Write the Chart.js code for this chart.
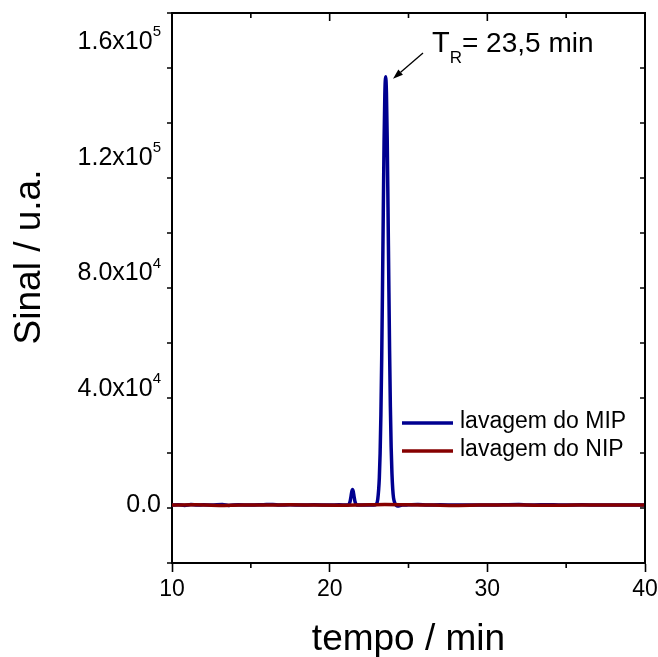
<!DOCTYPE html>
<html><head><meta charset="utf-8">
<script src="https://cdn.jsdelivr.net/npm/chart.js@4.4.1/dist/chart.umd.min.js"></script>
<style>html,body{margin:0;padding:0;background:#fff}canvas{display:block}</style>
</head><body><canvas id="c" width="658" height="657"></canvas>
<script>
// ---- data ----
const mipTime = [10,10.4,10.8,11.2,11.6,12.0,12.5,13.2,13.6,14.2,15.0,15.8,16.4,16.8,17.5,18.2,19.0,20.0,20.6,21.1,
  21.2,21.25,21.3,21.35,21.4,21.45,21.5,21.55,21.6,21.65,21.7,21.8,22.4,22.8,22.95,
  23.05,23.15,23.2,23.25,23.3,23.35,23.4,23.45,23.5,23.55,23.6,23.65,23.7,23.75,23.8,23.85,23.9,23.95,24.0,24.05,24.15,24.3,
  24.6,25.0,25.6,26.2,27.0,28.0,29.0,30.0,31.0,32.0,32.6,33.4,34.2,35.0,36.0,37.0,38.5,40.0];
const mipSignal = [0,150,-100,200,0,100,0,250,-100,100,0,150,250,0,100,0,100,0,100,0,
  110,460,1350,2900,4600,5400,4600,2900,1350,460,110,0,50,0,300,
  2000,9400,17900,31400,50500,74600,101000,125300,142000,148000,142500,126500,103000,77500,53500,34000,20000,11000,5500,2500,500,-300,
  0,100,250,0,100,0,50,0,100,200,0,150,100,0,100,0,50,0];
const nipTime = [10,11.5,13,14.5,16,17.5,19,20.5,22,23.5,25,26.5,28,29.5,31,32.5,34,35.5,37,38.5,40];
const nipSignal = [0,100,-100,50,0,100,0,-50,50,200,100,0,-100,0,50,0,-50,0,50,0,0];
const seriesLabels = ['lavagem do MIP','lavagem do NIP'];
const xTitle = 'tempo / min';
const yTitle = 'Sinal / u.a.';
const xTickValues = [10,20,30,40];
const xTickLabels = ['10','20','30','40'];
const yTickValues = [0,40000,80000,120000,160000];
const yTickMantissa = ['0.0','4.0x10','8.0x10','1.2x10','1.6x10'];
const yTickExponent = ['','4','4','5','5'];
const annotationMain = 'T';
const annotationSub = 'R';
const annotationRest = '= 23,5 min';
const annotationTextAt = [26.49, 156500];   // data units (time, signal)
const annotationArrowFrom = [25.92, 156200];
const annotationArrowTo = [24.02, 147300];

// ---- styling ----
const FONT = '"Liberation Sans", Arial, Helvetica, sans-serif';
const mipColor = '#000090';
const nipColor = '#860000';

const isMajorX = v => xTickValues.includes(v);
const isMajorY = v => yTickValues.includes(v);

const decor = {
  id: 'decor',
  afterDraw(chart) {
    const ctx = chart.ctx, a = chart.chartArea;
    const xs = chart.scales.x, ys = chart.scales.y;
    ctx.save();
    ctx.strokeStyle = '#000'; ctx.fillStyle = '#000';
    // top & right frame
    ctx.lineWidth = 2;
    ctx.beginPath();
    ctx.moveTo(a.left - 1, a.top); ctx.lineTo(a.right, a.top); ctx.lineTo(a.right, a.bottom + 1);
    ctx.stroke();
    ctx.lineWidth = 1.6;
    // minor outward ticks + mirrored inward ticks
    xs.ticks.forEach(t => {
      const px = xs.getPixelForValue(t.value);
      const major = isMajorX(t.value);
      ctx.beginPath();
      if (!major) { ctx.moveTo(px, a.bottom); ctx.lineTo(px, a.bottom + 5); }
      ctx.moveTo(px, a.top); ctx.lineTo(px, a.top + (major ? 8 : 5));
      ctx.stroke();
    });
    ys.ticks.forEach(t => {
      const py = ys.getPixelForValue(t.value);
      const major = isMajorY(t.value);
      ctx.beginPath();
      if (!major) { ctx.moveTo(a.left, py); ctx.lineTo(a.left - 5, py); }
      ctx.moveTo(a.right, py); ctx.lineTo(a.right - (major ? 8 : 5), py);
      ctx.stroke();
    });
    // y tick labels with superscript exponent
    ctx.textBaseline = 'middle';
    yTickValues.forEach((v, i) => {
      const py = ys.getPixelForValue(v);
      const rightX = a.left - 11;
      ctx.font = '15px ' + FONT;
      const ew = yTickExponent[i] ? ctx.measureText(yTickExponent[i]).width : 0;
      ctx.textAlign = 'right';
      if (yTickExponent[i]) ctx.fillText(yTickExponent[i], rightX, py - 10);
      ctx.font = '25px ' + FONT;
      ctx.fillText(yTickMantissa[i], rightX - ew, py);
    });
    // y title
    ctx.save();
    ctx.translate(29.5, 257);
    ctx.rotate(-Math.PI / 2);
    ctx.font = '37px ' + FONT;
    ctx.textAlign = 'center'; ctx.textBaseline = 'middle';
    ctx.fillText(yTitle, 0, 0);
    ctx.restore();
    // legend
    const ds = chart.data.datasets;
    const lx = a.left + 230, lw = 51;
    [423, 451].forEach((ly, i) => {
      ctx.strokeStyle = ds[i].borderColor; ctx.lineWidth = 3.5;
      ctx.beginPath(); ctx.moveTo(lx, ly); ctx.lineTo(lx + lw, ly); ctx.stroke();
      ctx.font = '23px ' + FONT; ctx.textAlign = 'left'; ctx.textBaseline = 'middle';
      ctx.fillText(seriesLabels[i], lx + lw + 7, ly - 1);
    });
    // annotation
    ctx.strokeStyle = '#000'; ctx.fillStyle = '#000';
    const tx = xs.getPixelForValue(annotationTextAt[0]);
    const ty = ys.getPixelForValue(annotationTextAt[1]);
    ctx.textAlign = 'left'; ctx.textBaseline = 'alphabetic';
    ctx.font = '29px ' + FONT;
    ctx.fillText(annotationMain, tx, ty);
    let cx = tx + ctx.measureText(annotationMain).width;
    ctx.font = '17px ' + FONT;
    ctx.fillText(annotationSub, cx, ty + 11);
    cx += ctx.measureText(annotationSub).width;
    ctx.font = '28px ' + FONT;
    ctx.fillText(annotationRest, cx, ty);
    const x1 = xs.getPixelForValue(annotationArrowFrom[0]), y1 = ys.getPixelForValue(annotationArrowFrom[1]);
    const x2 = xs.getPixelForValue(annotationArrowTo[0]), y2 = ys.getPixelForValue(annotationArrowTo[1]);
    const ang = Math.atan2(y2 - y1, x2 - x1);
    const hl = 10, hw = 3.5;
    const bx = x2 - hl * Math.cos(ang), by = y2 - hl * Math.sin(ang);
    ctx.lineWidth = 1.3;
    ctx.beginPath(); ctx.moveTo(x1, y1); ctx.lineTo(bx, by); ctx.stroke();
    ctx.beginPath();
    ctx.moveTo(x2, y2);
    ctx.lineTo(bx + hw * Math.sin(ang), by - hw * Math.cos(ang));
    ctx.lineTo(bx - hw * Math.sin(ang), by + hw * Math.cos(ang));
    ctx.closePath(); ctx.fill();
    ctx.restore();
  }
};

new Chart(document.getElementById('c').getContext('2d'), {
  type: 'line',
  data: {
    datasets: [
      { label: seriesLabels[0], data: mipTime.map((t, i) => ({ x: t, y: mipSignal[i] })),
        borderColor: mipColor, borderWidth: 3.5, pointRadius: 0, fill: false,
        cubicInterpolationMode: 'monotone', order: 1 },
      { label: seriesLabels[1], data: nipTime.map((t, i) => ({ x: t, y: nipSignal[i] })),
        borderColor: nipColor, borderWidth: 3.5, pointRadius: 0, fill: false,
        cubicInterpolationMode: 'monotone', order: 0 }
    ]
  },
  options: {
    responsive: false, animation: false, devicePixelRatio: 1,
    layout: { padding: { top: 13, right: 13, left: 0, bottom: 0 } },
    plugins: { legend: { display: false }, tooltip: { enabled: false } },
    scales: {
      x: {
        type: 'linear', min: 10, max: 40,
        afterFit(s) { s.height = 94; s.paddingLeft = 0; s.paddingRight = 0; },
        ticks: { stepSize: 5, maxRotation: 0, autoSkip: false, padding: 4, color: '#000',
          font: { family: FONT, size: 23 },
          callback: v => { const k = xTickValues.indexOf(v); return k >= 0 ? xTickLabels[k] : ''; } },
        grid: { display: true, drawOnChartArea: false, drawTicks: true, tickLength: 9, tickWidth: 1.6,
          tickColor: c => isMajorX(c.tick.value) ? '#000' : 'rgba(0,0,0,0)' },
        border: { display: true, color: '#000', width: 2 },
        title: { display: true, text: xTitle, color: '#000', font: { family: FONT, size: 37 },
          padding: { top: 0, bottom: -5 } }
      },
      y: {
        type: 'linear', min: -20000, max: 170000,
        afterFit(s) { s.width = 172; s.paddingTop = 0; s.paddingBottom = 0; },
        ticks: { stepSize: 20000, includeBounds: false, display: false },
        grid: { display: true, drawOnChartArea: false, drawTicks: true, tickLength: 9, tickWidth: 1.6,
          tickColor: c => isMajorY(c.tick.value) ? '#000' : 'rgba(0,0,0,0)' },
        border: { display: true, color: '#000', width: 2 }
      }
    }
  },
  plugins: [decor]
});
</script>
</body></html>
